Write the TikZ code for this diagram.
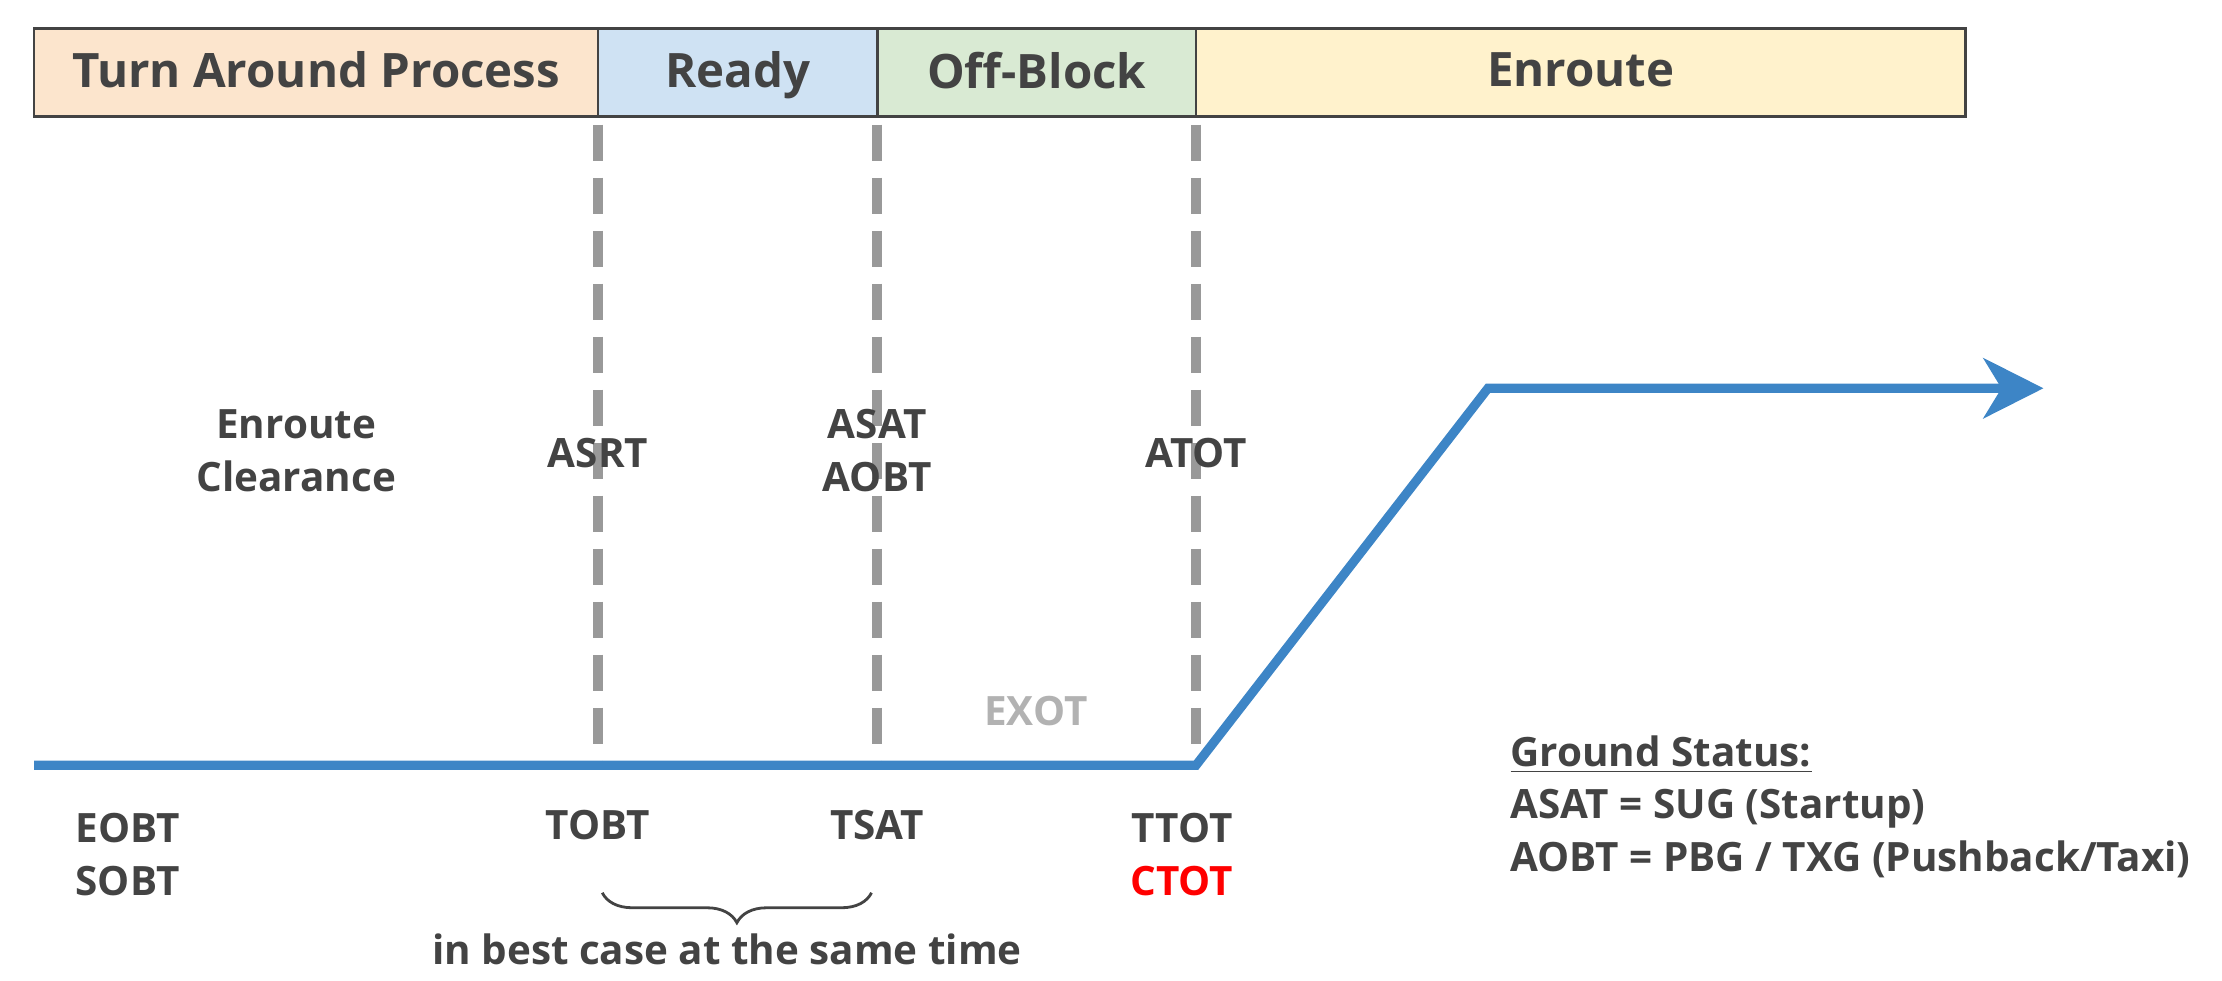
\documentclass[tikz,border=0pt]{standalone}
\usepackage{fontspec}
\setmainfont{Open Sans}
\usetikzlibrary{arrows.meta,decorations.pathreplacing}
\definecolor{txtGray}{HTML}{434343}
\definecolor{lineBlue}{HTML}{3D85C6}
\definecolor{dashGray}{HTML}{999999}
\definecolor{fillTurn}{HTML}{FCE5CD}
\definecolor{fillReady}{HTML}{CFE2F3}
\definecolor{fillOff}{HTML}{D9EAD3}
\definecolor{fillEnroute}{HTML}{FFF2CC}
\begin{document}
\begin{tikzpicture}[x=0.01417cm, y=-0.01417cm,
rectPhase/.style={rectangle, draw=txtGray, line width=0.8pt, minimum height=0.88cm, inner sep=0pt, text depth=0.25ex, font=\fontsize{13.5}{16}\selectfont\bfseries, text=txtGray},
rectText/.style={align=center, font=\fontsize{11.5}{15}\selectfont\bfseries, text=txtGray, inner sep=1pt},
lineDash/.style={dashGray, line width=2.8pt, dash pattern=on 0.36cm off 0.17cm},
lineFlight/.style={lineBlue, line width=2.6pt}]

\useasboundingbox (0,0) rectangle (1568,692);

% phases
\node[rectPhase, fill=fillTurn, minimum width=398*0.01417cm] (turn) at (223,51) {Turn Around Process};
\node[rectPhase, fill=fillReady, minimum width=197*0.01417cm] (ready) at (520.5,51) {Ready};
\node[rectPhase, fill=fillOff, minimum width=225*0.01417cm] (offblock) at (731.5,51) {Off-Block};
\node[rectPhase, fill=fillEnroute, minimum width=543*0.01417cm] (enroute) at (1115.5,51) {Enroute};

% markers
\coordinate (asrtTop) at (422,88);
\coordinate (asrtBot) at (422,538);
\coordinate (asatTop) at (619,88);
\coordinate (asatBot) at (619,538);
\coordinate (atotTop) at (844,88);
\coordinate (atotBot) at (844,538);
\draw[lineDash] (asrtTop) -- (asrtBot);
\draw[lineDash] (asatTop) -- (asatBot);
\draw[lineDash] (atotTop) -- (atotBot);

% flight path
\coordinate (start) at (24,540);
\coordinate (takeoff) at (844,540);
\coordinate (climb) at (1050,274);
\coordinate (finish) at (1442,274);
\draw[lineFlight, -{Stealth[length=0.6cm, width=0.6cm, inset=0.18cm]}, line join=miter]
  (start) -- (takeoff) -- (climb) -- (finish);

% labels
\node[rectText] (clearance) at (209,318) {Enroute\\Clearance};
\node[rectText] (asrt) at (422,320) {ASRT};
\node[rectText] (asat) at (619,318) {ASAT\\AOBT};
\node[rectText] (atot) at (844,320) {ATOT};
\node[rectText, text=black!30] (exot) at (731,502) {EXOT};

\node[rectText] (eobt) at (90,603) {EOBT\\SOBT};
\node[rectText] (tobt) at (422,582) {TOBT};
\node[rectText] (tsat) at (619,582) {TSAT};
\node[rectText, align=center] (ttot) at (834,603) {TTOT\\\textcolor{red}{CTOT}};

\coordinate (braceL) at (425,630);
\coordinate (braceR) at (615,630);
\draw[txtGray, line width=0.8pt, decorate, decoration={brace, mirror, amplitude=0.3cm}] (braceL) -- (braceR);
\node[rectText] (sameTime) at (513,670) {in best case at the same time};

\node[rectText, anchor=north west, align=left] (status) at (1063,516)
  {\underline{Ground Status:}\\ASAT = SUG (Startup)\\AOBT = PBG / TXG (Pushback/Taxi)};

\end{tikzpicture}
\end{document}
